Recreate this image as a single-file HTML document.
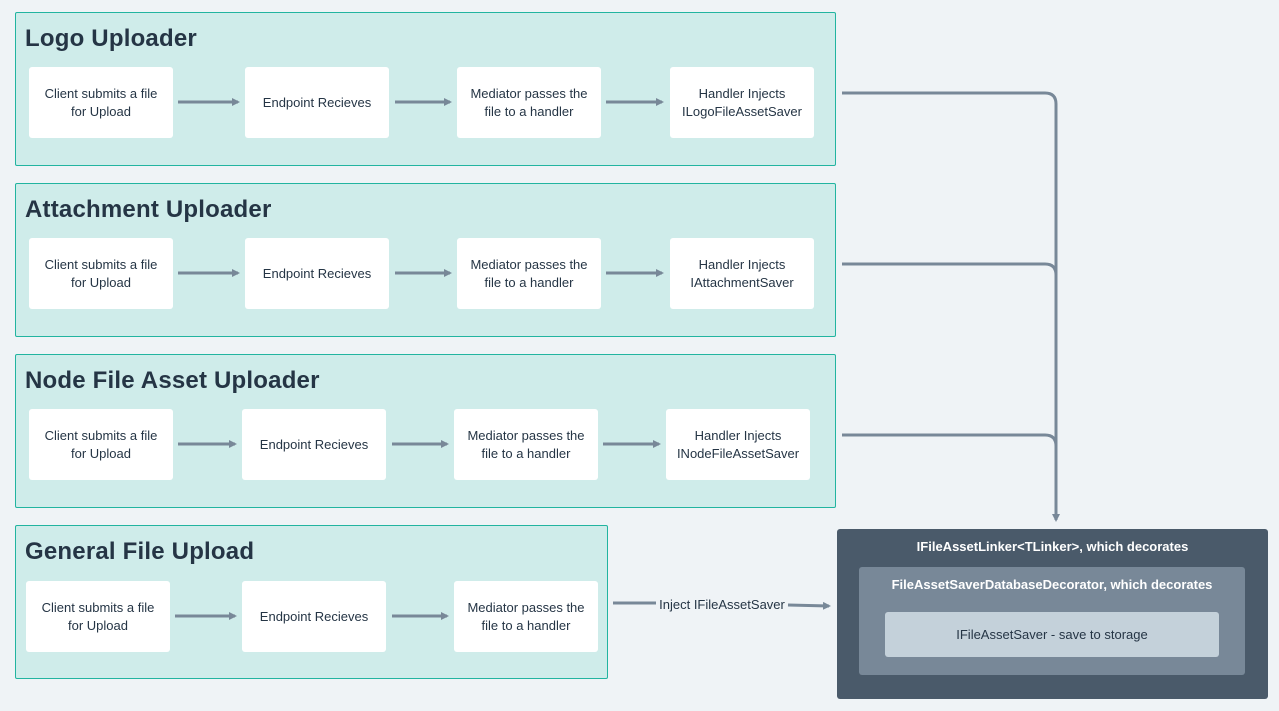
<!DOCTYPE html>
<html><head><style>
body{margin:0;width:1279px;height:711px;background:#eff3f6;position:relative;overflow:hidden;font-family:"Liberation Sans",sans-serif}
.g{position:absolute;background:#cfecea;border:1.5px solid #22b4a0;box-sizing:border-box;border-radius:2px}
.g h1{position:absolute;left:9px;top:12px;margin:0;font-size:24px;font-weight:bold;color:#253545;letter-spacing:0.2px}
.n{position:absolute;background:#fff;border-radius:3px;width:144px;height:71px;display:flex;align-items:center;justify-content:center;text-align:center;font-size:13px;line-height:18px;color:#253545}
.b{position:absolute;box-sizing:border-box;border-radius:3px;text-align:center}
</style></head><body>
<div class="g" style="left:15px;top:12px;width:821px;height:154px"><h1>Logo Uploader</h1></div>
<div class="g" style="left:15px;top:183px;width:821px;height:154px"><h1>Attachment Uploader</h1></div>
<div class="g" style="left:15px;top:354px;width:821px;height:154px"><h1>Node File Asset Uploader</h1></div>
<div class="g" style="left:15px;top:525px;width:593px;height:154px"><h1>General File Upload</h1></div>

<div class="n" style="left:29px;top:67px">Client submits a file<br>for Upload</div>
<div class="n" style="left:245px;top:67px">Endpoint Recieves</div>
<div class="n" style="left:457px;top:67px">Mediator passes the<br>file to a handler</div>
<div class="n" style="left:670px;top:67px">Handler Injects<br>ILogoFileAssetSaver</div>

<div class="n" style="left:29px;top:238px">Client submits a file<br>for Upload</div>
<div class="n" style="left:245px;top:238px">Endpoint Recieves</div>
<div class="n" style="left:457px;top:238px">Mediator passes the<br>file to a handler</div>
<div class="n" style="left:670px;top:238px">Handler Injects<br>IAttachmentSaver</div>

<div class="n" style="left:29px;top:409px">Client submits a file<br>for Upload</div>
<div class="n" style="left:242px;top:409px">Endpoint Recieves</div>
<div class="n" style="left:454px;top:409px">Mediator passes the<br>file to a handler</div>
<div class="n" style="left:666px;top:409px">Handler Injects<br>INodeFileAssetSaver</div>

<div class="n" style="left:26px;top:581px">Client submits a file<br>for Upload</div>
<div class="n" style="left:242px;top:581px">Endpoint Recieves</div>
<div class="n" style="left:454px;top:581px">Mediator passes the<br>file to a handler</div>

<svg width="1279" height="711" style="position:absolute;left:0;top:0">
<defs><marker id="a" markerWidth="8" markerHeight="8" refX="6" refY="4" orient="auto" markerUnits="userSpaceOnUse"><path d="M0,0 L8,4 L0,8 z" fill="#788898"/></marker></defs>
<g stroke="#788898" stroke-width="3" fill="none">
<line x1="178" y1="102" x2="238" y2="102" marker-end="url(#a)"/>
<line x1="395" y1="102" x2="450" y2="102" marker-end="url(#a)"/>
<line x1="606" y1="102" x2="662" y2="102" marker-end="url(#a)"/>
<line x1="178" y1="273" x2="238" y2="273" marker-end="url(#a)"/>
<line x1="395" y1="273" x2="450" y2="273" marker-end="url(#a)"/>
<line x1="606" y1="273" x2="662" y2="273" marker-end="url(#a)"/>
<line x1="178" y1="444" x2="235" y2="444" marker-end="url(#a)"/>
<line x1="392" y1="444" x2="447" y2="444" marker-end="url(#a)"/>
<line x1="603" y1="444" x2="659" y2="444" marker-end="url(#a)"/>
<line x1="175" y1="616" x2="235" y2="616" marker-end="url(#a)"/>
<line x1="392" y1="616" x2="447" y2="616" marker-end="url(#a)"/>
<path d="M842,93 H1045 Q1056,93 1056,104 V520" marker-end="url(#a)"/>
<path d="M842,264 H1045 Q1056,264 1056,275"/>
<path d="M842,435 H1045 Q1056,435 1056,446"/>
<line x1="613" y1="603" x2="656" y2="603"/>
<path d="M788,605 L829,606" marker-end="url(#a)"/>
</g>
<text x="722" y="609" font-size="13" fill="#253545" text-anchor="middle" font-family="Liberation Sans">Inject IFileAssetSaver</text>
</svg>

<div class="b" style="left:837px;top:529px;width:431px;height:170px;background:#4a5a6a;color:#fff;font-weight:bold;font-size:13px;padding-top:10px">IFileAssetLinker&lt;TLinker&gt;, which decorates</div>
<div class="b" style="left:859px;top:567px;width:386px;height:108px;background:#788898;color:#fff;font-weight:bold;font-size:13px;padding-top:10px">FileAssetSaverDatabaseDecorator, which decorates</div>
<div class="b" style="left:885px;top:612px;width:334px;height:45px;background:#c4d1da;color:#253545;font-size:13px;line-height:45px">IFileAssetSaver - save to storage</div>
</body></html>
